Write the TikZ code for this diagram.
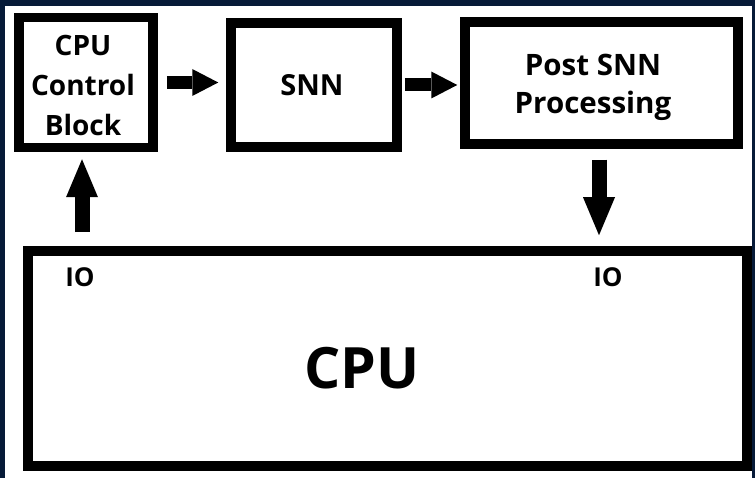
\documentclass[tikz,border=0pt]{standalone}
\usepackage{fontspec}
\setmainfont{Open Sans}
\usetikzlibrary{arrows.meta,calc}
\definecolor{navy}{RGB}{6,26,56}
\begin{document}
\begin{tikzpicture}[x=1pt,y=-1pt,
  box/.style={draw=black, line width=9.5pt, fill=white, inner sep=0pt},
  lbl/.style={font=\fontsize{28}{40}\selectfont\bfseries, align=center, inner sep=0pt},
  harrow/.style={line width=13pt, -{Triangle[length=26pt,width=27pt,line width=0pt]}},
  varrow/.style={line width=15pt, -{Triangle[length=38pt,width=32pt,line width=0pt]}}]
\useasboundingbox (0,0) rectangle (755,478);
\fill[navy] (0,0) rectangle (755,478);
\fill[white] (5,6) rectangle (752,478);
% boxes
\node[box, minimum width=134pt, minimum height=130pt] (ctrl) at (86,82.5) {};
\node[box, minimum width=166pt, minimum height=124pt] (snn) at (314,85) {};
\node[box, minimum width=273pt, minimum height=122pt] (post) at (601.5,83) {};
\node[box, minimum width=719pt, minimum height=215pt] (cpu) at (387.5,358.5) {};
% texts
\node[lbl] (ctrlt) at (83,86) {CPU\\Control\\Block};
\node[lbl, font=\fontsize{29}{40}\selectfont\bfseries] (snnt) at (312,85) {SNN};
\node[lbl, font=\fontsize{29.5}{38}\selectfont\bfseries] (postt) at (593,87) {Post SNN\\Processing};
\node[lbl, font=\fontsize{26}{30}\selectfont\bfseries] (ioL) at (80,277) {IO};
\node[lbl, font=\fontsize{26}{30}\selectfont\bfseries] (ioR) at (608,277) {IO};
\node[lbl, font=\fontsize{57}{60}\selectfont\bfseries] (cput) at (362,368) {CPU};
% arrow anchors
\coordinate (upx) at (82,0);
% connectors
\draw[harrow, shorten <=9pt, shorten >=8pt] (ctrl.east) -- (ctrl.east -| snn.west);
\draw[harrow, shorten <=3pt, shorten >=3pt] (snn.east) -- (snn.east -| post.west);
\draw[varrow, shorten <=14pt, shorten >=7pt] (cpu.north -| upx) -- (ctrl.south -| upx);
\draw[varrow, shorten <=11pt, shorten >=11pt] (post.south -| 599,0) -- (cpu.north -| 599,0);
\end{tikzpicture}
\end{document}
